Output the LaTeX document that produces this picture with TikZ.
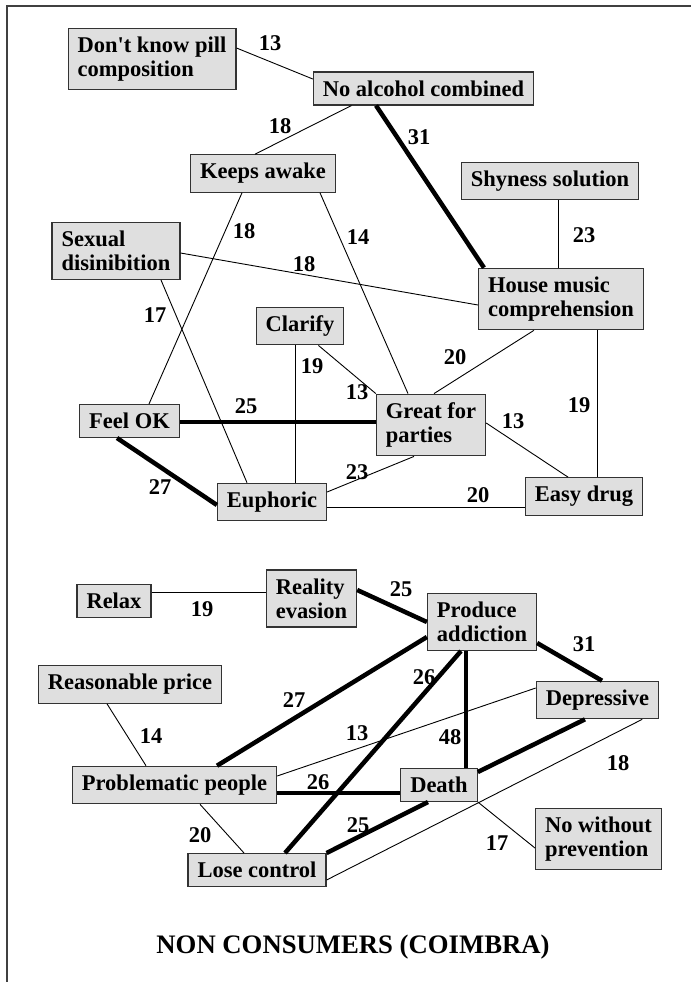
\documentclass[tikz,border=0pt]{standalone}
\usepackage{fontspec}
\setmainfont{Liberation Serif}
\begin{document}
\begin{tikzpicture}[x=1pt,y=-1pt]
\tikzstyle{every node}+=[inner sep=0pt]
\tikzstyle{box}=[draw=black!80,fill=gray!25,line width=1.2pt,align=left,inner xsep=9.5pt,inner ysep=8.5pt,font=\fontsize{22.5}{24}\selectfont\bfseries]
\tikzstyle{num}=[font=\fontsize{22.5}{24}\selectfont\bfseries]
\tikzstyle{link}=[line width=0.9pt]
\tikzstyle{strong}=[line width=4.5pt]
\useasboundingbox (0,0) rectangle (691,982);
\draw [black!75,line width=1.5pt] (7,982) -- (7,6) -- (691,6);
\node [box] (dk) at (152,59) {Don\textquotesingle t know pill\\composition};
\node [box] (noalc) at (423.5,88.5) {No alcohol combined};
\node [box] (keeps) at (263,173.5) {Keeps awake};
\node [box] (sexual) at (116,251) {Sexual\\disinibition};
\node [box] (shy) at (550,181) {Shyness solution};
\node [box] (house) at (561,299) {House music\\comprehension};
\node [box] (clarify) at (300,326) {Clarify};
\node [box] (feelok) at (129.5,421) {Feel OK};
\node [box] (great) at (431,425) {Great for\\parties};
\node [box] (euph) at (272,502) {Euphoric};
\node [box] (easy) at (584,496.5) {Easy drug};
\node [box] (relax) at (114,601) {Relax};
\node [box] (reality) at (311.5,598.5) {Reality\\evasion};
\node [box] (produce) at (482,622) {Produce\\addiction};
\node [box] (depress) at (597.5,700) {Depressive};
\node [box] (reason) at (130,684.5) {Reasonable price};
\node [box] (probl) at (174.5,785) {Problematic people};
\node [box] (death) at (439,785) {Death};
\node [box] (lose) at (257,870) {Lose control};
\node [box] (nowithout) at (598.5,839) {No without\\prevention};
\draw [link] ([yshift=11pt]dk.east) -- ([yshift=9.5pt]noalc.west);
\draw [link] ([xshift=-72pt]noalc.south) -- ([xshift=-8pt]keeps.north);
\draw [strong] ([xshift=-47.5pt]noalc.south) -- ([xshift=6pt]house.north west);
\draw [link] ([xshift=-21pt]keeps.south) -- ([xshift=19.5pt]feelok.north);
\draw [link] ([xshift=57pt]keeps.south) -- ([xshift=-23pt]great.north);
\draw [link] ([yshift=-2pt]sexual.east) -- ([yshift=-6pt]house.west);
\draw [link] ([xshift=45pt]sexual.south) -- ([xshift=-25pt]euph.north);
\draw [link] ([xshift=8pt]shy.south) -- ([xshift=8pt]shy.south |- house.north);
\draw [link] ([xshift=-27pt]house.south) -- ([xshift=3pt]great.north);
\draw [link] ([xshift=36pt]house.south) -- ([xshift=36pt]house.south |- easy.north);
\draw [link] ([xshift=-5pt]clarify.south) -- ([xshift=-5pt]clarify.south |- euph.north);
\draw [link] ([xshift=-26pt]clarify.south east) -- (great.north west);
\draw [strong] ([yshift=-1pt]feelok.east) -- ([yshift=-1pt]feelok.east -| great.west);
\draw [strong] ([xshift=-12.5pt]feelok.south) -- ([yshift=-3pt]euph.west);
\draw [link] ([xshift=-17pt]great.south) -- ([yshift=10pt]euph.east);
\draw [link] ([yshift=2pt]great.east) -- ([xshift=-16pt]easy.north);
\draw [link] ([yshift=-5pt]euph.east) -- ([yshift=-5pt]euph.east -| easy.west);
\draw [link] ([yshift=9pt]relax.east) -- ([yshift=9pt]relax.east -| reality.west);
\draw [strong] ([yshift=8.5pt]reality.east) -- (produce.west);
\draw [strong] ([yshift=-21pt]produce.east) -- ([xshift=4.5pt]depress.north);
\draw [strong] ([yshift=-15pt]produce.west) -- ([xshift=42.5pt]probl.north);
\draw [strong] ([xshift=-21pt]produce.south) -- ([xshift=28pt]lose.north);
\draw [strong] ([xshift=-16pt]produce.south) -- ([xshift=-16pt]produce.south |- death.north);
\draw [link] ([yshift=12pt]depress.west) -- ([yshift=9pt]probl.east);
\draw [strong] ([xshift=-12.5pt]depress.south) -- ([yshift=13pt]death.east);
\draw [link] ([xshift=-17pt]depress.south east) -- ([yshift=-10pt]lose.east);
\draw [link] ([xshift=-23pt]reason.south) -- ([xshift=-28.5pt]probl.north);
\draw [strong] ([yshift=-8pt]probl.east) -- ([yshift=-8pt]probl.east -| death.west);
\draw [link] ([xshift=25.5pt]probl.south) -- ([xshift=-13pt]lose.north);
\draw [strong] (lose.north east) -- ([xshift=-11pt]death.south);
\draw [link] (death.south east) -- ([yshift=-9pt]nowithout.west);
\node [num] (w1) at (270,43) {13};
\node [num] (w2) at (280,126) {18};
\node [num] (w3) at (419,137) {31};
\node [num] (w4) at (244,231) {18};
\node [num] (w5) at (358,237) {14};
\node [num] (w6) at (304,264) {18};
\node [num] (w7) at (155,315) {17};
\node [num] (w8) at (584,235) {23};
\node [num] (w9) at (455,357) {20};
\node [num] (w10) at (579,405) {19};
\node [num] (w11) at (312,366) {19};
\node [num] (w12) at (357,392) {13};
\node [num] (w13) at (246,406) {25};
\node [num] (w14) at (160,487) {27};
\node [num] (w15) at (357,472) {23};
\node [num] (w16) at (513,421) {13};
\node [num] (w17) at (478,495) {20};
\node [num] (w18) at (202,609) {19};
\node [num] (w19) at (401,589) {25};
\node [num] (w20) at (584,644) {31};
\node [num] (w21) at (294,700) {27};
\node [num] (w22) at (424,677) {26};
\node [num] (w23) at (450,737) {48};
\node [num] (w24) at (357,733) {13};
\node [num] (w25) at (618,763) {18};
\node [num] (w26) at (151,736) {14};
\node [num] (w27) at (318,782) {26};
\node [num] (w28) at (200,835) {20};
\node [num] (w29) at (358,825) {25};
\node [num] (w30) at (497,843) {17};
\node [font=\fontsize{26.7}{30}\selectfont\bfseries] (title) at (353,947) {NON CONSUMERS (COIMBRA)};
\end{tikzpicture}
\end{document}
